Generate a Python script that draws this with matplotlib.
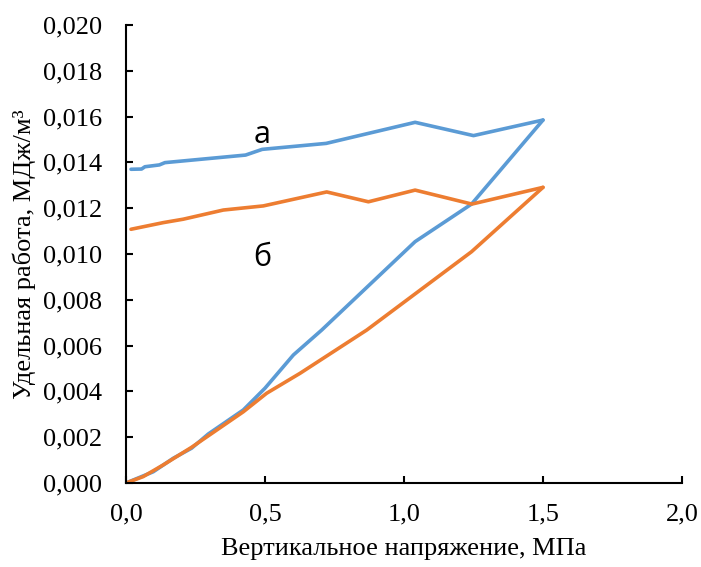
import matplotlib
matplotlib.use("Agg")
import matplotlib.pyplot as plt
from matplotlib.ticker import FuncFormatter, MultipleLocator

# Data
a_unload_x = [0.018, 0.056, 0.068, 0.12, 0.14, 0.43, 0.49, 0.72, 1.04, 1.25, 1.50]
a_unload_y = [0.01370, 0.01371, 0.01381, 0.01389, 0.01399, 0.01432, 0.01457, 0.01483, 0.01575, 0.01517, 0.01585]
a_load_x = [0.0, 0.098, 0.17, 0.236, 0.296, 0.422, 0.50, 0.602, 0.704, 1.04, 1.243, 1.50]
a_load_y = [0.0, 0.00049, 0.00108, 0.00152, 0.00214, 0.00319, 0.00414, 0.00559, 0.00668, 0.01054, 0.01218, 0.01585]

b_unload_x = [0.018, 0.134, 0.206, 0.35, 0.494, 0.722, 0.872, 1.04, 1.244, 1.50]
b_unload_y = [0.01108, 0.01137, 0.01152, 0.01192, 0.01210, 0.01271, 0.01228, 0.01279, 0.01218, 0.01291]
b_load_x = [0.0, 0.062, 0.134, 0.236, 0.422, 0.506, 0.626, 0.866, 1.243, 1.50]
b_load_y = [0.0, 0.00028, 0.00079, 0.00156, 0.00311, 0.00392, 0.00479, 0.00668, 0.01010, 0.01291]

series_labels = ["а", "б"]
xlabel = "Вертикальное напряжение, МПа"
ylabel = "Удельная работа, МДж/м³"

BLUE = "#5B9BD5"
ORANGE = "#ED7D31"

plt.rcParams["font.family"] = ["Liberation Serif", "DejaVu Serif"]

fig = plt.figure(figsize=(7.01, 5.67), dpi=100)
ax = fig.add_axes([126/701, 1-483/567, (682-126)/701, (483-25)/567])

lw = 2.6
kw = dict(lw=lw, solid_joinstyle="round", solid_capstyle="round")
ax.plot(a_load_x, a_load_y, color=BLUE, **kw)
ax.plot(a_unload_x, a_unload_y, color=BLUE, **kw)
ax.plot(b_load_x, b_load_y, color=ORANGE, **kw)
ax.plot(b_unload_x, b_unload_y, color=ORANGE, **kw)

ax.set_xlim(0, 2.0)
ax.set_ylim(0, 0.020)
ax.xaxis.set_major_locator(MultipleLocator(0.5))
ax.yaxis.set_major_locator(MultipleLocator(0.002))
ax.xaxis.set_major_formatter(FuncFormatter(lambda v, p: f"{v:.1f}".replace(".", ",")))
ax.yaxis.set_major_formatter(FuncFormatter(lambda v, p: f"{v:.3f}".replace(".", ",")))

for s in ["top", "right"]:
    ax.spines[s].set_visible(False)
for s in ["left", "bottom"]:
    ax.spines[s].set_linewidth(1.5)
    ax.spines[s].set_color("black")

ax.tick_params(axis="both", direction="in", length=5, width=1.5, labelsize=19)
ax.tick_params(axis="y", pad=17)
ax.tick_params(axis="x", pad=15)

ax.set_xlabel(xlabel, fontsize=19, labelpad=9)
ax.set_ylabel(ylabel, fontsize=19, labelpad=5)

ax.text(0.488, 0.01518, series_labels[0], fontsize=22, family=["Open Sans", "DejaVu Sans"],
        ha="center", va="center")
ax.text(0.491, 0.00983, series_labels[1], fontsize=22, family=["Open Sans", "DejaVu Sans"],
        ha="center", va="center")

fig.savefig("out.png", dpi=100)
